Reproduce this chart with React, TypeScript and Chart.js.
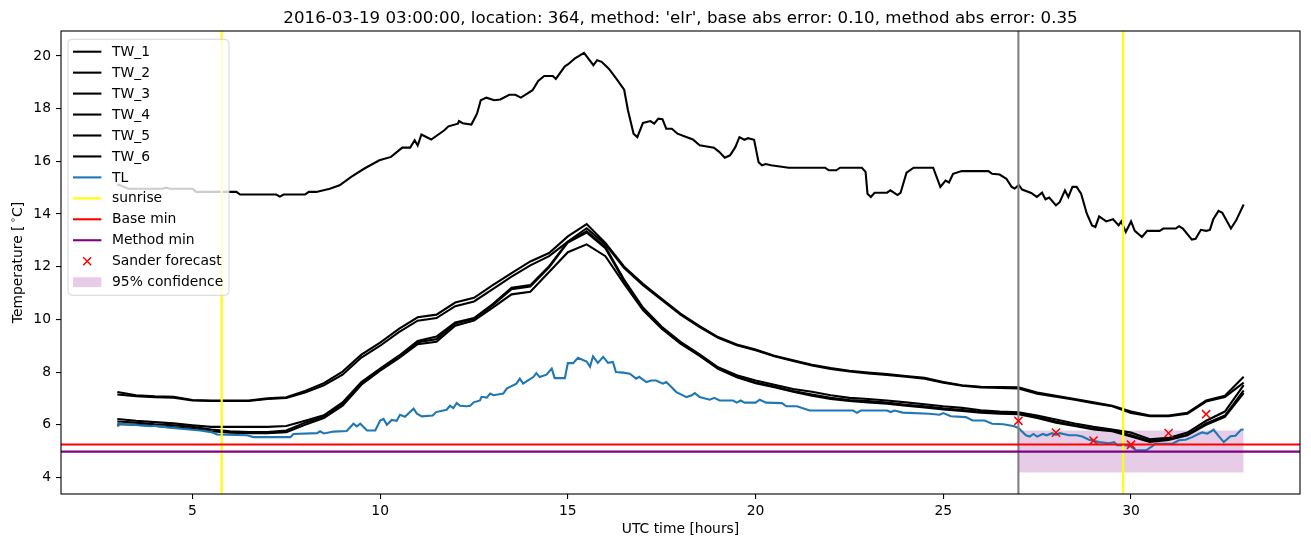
import React, { useEffect, useRef } from 'react';
import { Chart, registerables } from 'chart.js';

Chart.register(...registerables);

const TITLE = "2016-03-19 03:00:00, location: 364, method: 'elr', base abs error: 0.10, method abs error: 0.35";
const X_LABEL = 'UTC time [hours]';
const Y_LABEL_PARTS = ['Temperature [', '\u2218', 'C]'];

const xTicks = [5, 10, 15, 20, 25, 30];
const yTicks = [4, 6, 8, 10, 12, 14, 16, 18, 20];
const xMin = 1.5;
const xMax = 34.5;
const yMin = 3.37;
const yMax = 20.95;

const tw1Hours = [
  3.0, 3.3, 4.2, 4.3, 4.4, 5.0, 5.1, 6.17, 6.27, 7.23, 7.33, 7.43, 8.0, 8.1, 8.3, 8.66, 8.92, 9.22, 9.57, 9.98,
  10.29, 10.59, 10.8, 10.92, 11.0, 11.1, 11.36, 11.71, 11.82, 12.07, 12.1, 12.2, 12.43, 12.58, 12.68, 12.83, 13.04, 13.2, 13.44, 13.6,
  13.75, 14.06, 14.21, 14.37, 14.6, 14.68, 14.92, 15.0, 15.18, 15.43, 15.68, 15.78, 15.9, 16.09, 16.29, 16.5, 16.6, 16.75, 16.85, 17.0,
  17.2, 17.3, 17.41, 17.52, 17.62, 17.77, 17.92, 18.1, 18.33, 18.51, 18.89, 19.03, 19.18, 19.32, 19.46, 19.57, 19.7, 19.8, 19.96, 20.08,
  20.17, 20.27, 20.41, 20.88, 21.85, 21.95, 22.15, 22.25, 22.83, 22.93, 22.98, 23.07, 23.17, 23.5, 23.59, 23.78, 23.86, 24.02, 24.21, 24.73,
  24.92, 25.06, 25.15, 25.26, 25.49, 26.2, 26.3, 26.5, 26.68, 26.82, 26.9, 27.01, 27.1, 27.34, 27.49, 27.63, 27.72, 27.82, 28.0, 28.1,
  28.24, 28.33, 28.44, 28.55, 28.67, 28.82, 28.96, 29.05, 29.15, 29.34, 29.52, 29.67, 29.74, 29.86, 30.0, 30.1, 30.29, 30.43, 30.76, 30.86,
  31.19, 31.28, 31.38, 31.62, 31.72, 31.86, 32.0, 32.1, 32.19, 32.33, 32.43, 32.66, 32.8, 33.0,
];
const tw1Values = [
  15.13, 14.96, 14.96, 15.0, 14.96, 14.96, 14.84, 14.84, 14.74, 14.74, 14.66, 14.74, 14.74, 14.84, 14.84, 14.96, 15.09, 15.4, 15.72, 16.04,
  16.17, 16.52, 16.52, 16.8, 16.6, 17.02, 16.83, 17.18, 17.33, 17.43, 17.53, 17.45, 17.4, 17.81, 18.32, 18.42, 18.32, 18.35, 18.53, 18.53,
  18.42, 18.7, 19.05, 19.24, 19.24, 19.13, 19.61, 19.68, 19.9, 20.12, 19.65, 19.84, 19.78, 19.52, 19.14, 18.72, 17.94, 17.05, 16.92, 17.46,
  17.53, 17.43, 17.62, 17.6, 17.24, 17.24, 17.05, 16.95, 16.83, 16.61, 16.52, 16.36, 16.14, 16.23, 16.54, 16.92, 16.82, 16.88, 16.82, 15.97,
  15.85, 15.9, 15.85, 15.76, 15.76, 15.66, 15.66, 15.76, 15.76, 15.6, 14.77, 14.65, 14.81, 14.81, 14.9, 14.72, 14.8, 15.57, 15.76, 15.76,
  15.03, 15.27, 15.2, 15.53, 15.63, 15.63, 15.53, 15.5, 15.34, 15.03, 14.97, 15.1, 14.93, 14.8, 14.65, 14.81, 14.56, 14.63, 14.33, 14.45,
  14.9, 14.65, 15.03, 15.03, 14.77, 14.02, 13.57, 13.51, 13.91, 13.72, 13.8, 13.57, 13.72, 13.32, 13.72, 13.36, 13.13, 13.36, 13.36, 13.45,
  13.45, 13.54, 13.45, 13.03, 13.06, 13.4, 13.36, 13.4, 13.8, 14.12, 14.05, 13.45, 13.76, 14.36,
];

const twHours = [
  3.0, 3.5, 4.0, 4.5, 5.0, 5.5, 6.0, 6.5, 7.0, 7.5,
  8.0, 8.5, 9.0, 9.5, 10.0, 10.5, 11.0, 11.5, 12.0, 12.5,
  13.0, 13.5, 14.0, 14.5, 15.0, 15.5, 16.0, 16.5, 17.0, 17.5,
  18.0, 18.5, 19.0, 19.5, 20.0, 20.5, 21.0, 21.5, 22.0, 22.5,
  23.0, 23.5, 24.0, 24.5, 25.0, 25.5, 26.0, 26.5, 27.0, 27.5,
  28.0, 28.5, 29.0, 29.5, 30.0, 30.5, 31.0, 31.5, 32.0, 32.5,
  33.0,
];
const tw2Values = [
  7.24, 7.12, 7.08, 7.06, 6.94, 6.92, 6.92, 6.92, 7.0, 7.04,
  7.28, 7.58, 8.02, 8.66, 9.12, 9.64, 10.08, 10.18, 10.64, 10.82,
  11.3, 11.76, 12.2, 12.52, 13.15, 13.62, 12.9, 12.0, 11.35, 10.78,
  10.22, 9.75, 9.33, 9.05, 8.86, 8.62, 8.45, 8.28, 8.15, 8.05,
  7.98, 7.92, 7.85, 7.78, 7.62, 7.5, 7.44, 7.43, 7.42, 7.22,
  7.1, 6.98, 6.85, 6.72, 6.5, 6.35, 6.35, 6.45, 6.92, 7.1,
  7.82,
];
const tw3Values = [
  7.15, 7.08, 7.05, 7.03, 6.92, 6.9, 6.9, 6.9, 6.98, 7.02,
  7.22, 7.5, 7.9, 8.55, 9.0, 9.52, 9.95, 10.05, 10.5, 10.68,
  11.15, 11.62, 12.05, 12.4, 12.95, 13.46, 12.85, 11.95, 11.3, 10.74,
  10.18, 9.72, 9.3, 9.02, 8.83, 8.6, 8.42, 8.25, 8.12, 8.02,
  7.95, 7.89, 7.82, 7.75, 7.6, 7.48, 7.42, 7.4, 7.38, 7.18,
  7.06, 6.95, 6.82, 6.7, 6.45, 6.32, 6.32, 6.42, 6.88, 7.05,
  7.6,
];
const tw4Values = [
  6.22, 6.15, 6.1, 6.05, 5.98, 5.92, 5.92, 5.92, 5.92, 5.95,
  6.15, 6.36, 6.85, 7.62, 8.13, 8.62, 9.18, 9.35, 9.88, 10.05,
  10.58, 11.2, 11.3, 12.02, 12.95, 13.35, 12.75, 11.5, 10.45, 9.72,
  9.15, 8.68, 8.18, 7.88, 7.68, 7.52, 7.36, 7.25, 7.12, 7.02,
  6.98, 6.92, 6.85, 6.78, 6.7, 6.64, 6.55, 6.5, 6.47, 6.35,
  6.2, 6.05, 5.92, 5.82, 5.7, 5.45, 5.5, 5.7, 6.15, 6.5,
  7.5,
];
const tw5Values = [
  6.12, 6.08, 6.02, 5.98, 5.92, 5.82, 5.75, 5.72, 5.72, 5.78,
  6.08, 6.3, 6.78, 7.58, 8.1, 8.58, 9.13, 9.25, 9.84, 10.02,
  10.54, 11.15, 11.25, 11.98, 12.92, 13.3, 12.7, 11.45, 10.4, 9.68,
  9.1, 8.65, 8.15, 7.82, 7.6, 7.45, 7.28, 7.15, 7.02, 6.94,
  6.9, 6.84, 6.76, 6.7, 6.62, 6.56, 6.5, 6.45, 6.42, 6.3,
  6.12, 5.98, 5.85, 5.78, 5.6, 5.38, 5.45, 5.62, 6.05, 6.35,
  7.3,
];
const tw6Values = [
  6.02, 6.0, 5.95, 5.9, 5.85, 5.75, 5.7, 5.68, 5.68, 5.72,
  6.0, 6.25, 6.72, 7.52, 8.05, 8.53, 9.06, 9.15, 9.76, 9.96,
  10.45, 10.95, 11.05, 11.8, 12.55, 12.85, 12.4, 11.35, 10.35, 9.65,
  9.08, 8.62, 8.12, 7.8, 7.58, 7.42, 7.25, 7.1, 6.98, 6.9,
  6.85, 6.8, 6.72, 6.66, 6.58, 6.52, 6.46, 6.42, 6.4, 6.26,
  6.08, 5.95, 5.82, 5.75, 5.55, 5.35, 5.42, 5.6, 6.0, 6.3,
  7.2,
];

const tlHours = [
  3.0, 3.09, 3.4, 3.88, 4.0, 4.33, 4.77, 5.21, 5.5, 5.66, 6.45, 6.63, 7.61, 7.69, 8.32, 8.4, 8.5, 8.76, 9.11, 9.29,
  9.38, 9.47, 9.65, 9.87, 10.0, 10.09, 10.18, 10.31, 10.44, 10.53, 10.66, 10.89, 10.98, 11.11, 11.4, 11.49, 11.77, 11.86, 11.95, 12.04,
  12.13, 12.3, 12.4, 12.49, 12.66, 12.7, 12.84, 12.93, 13.02, 13.28, 13.37, 13.63, 13.72, 13.81, 13.94, 14.08, 14.16, 14.25, 14.43, 14.57,
  14.65, 14.92, 15.0, 15.14, 15.27, 15.4, 15.5, 15.59, 15.67, 15.8, 15.94, 16.07, 16.2, 16.28, 16.47, 16.65, 16.82, 16.9, 17.09, 17.22,
  17.35, 17.53, 17.62, 17.71, 17.89, 18.16, 18.3, 18.38, 18.51, 18.78, 18.9, 19.04, 19.4, 19.5, 19.6, 19.71, 20.0, 20.11, 20.28, 20.7,
  20.82, 21.1, 21.44, 22.6, 22.7, 22.8, 23.5, 23.6, 23.7, 23.92, 24.63, 24.9, 25.0, 25.2, 25.6, 25.78, 26.1, 26.3, 26.6, 26.89,
  27.0, 27.2, 27.3, 27.4, 27.5, 27.65, 27.75, 27.9, 28.0, 28.1, 28.35, 28.55, 28.7, 28.88, 29.15, 29.41, 29.55, 29.63, 29.85, 29.99,
  30.13, 30.4, 30.56, 30.65, 31.1, 31.28, 31.45, 31.63, 31.81, 31.9, 32.03, 32.2, 32.34, 32.47, 32.65, 32.78, 32.93, 33.0,
];
const tlValues = [
  5.94, 6.04, 6.0, 5.94, 5.96, 5.9, 5.84, 5.78, 5.72, 5.63, 5.6, 5.53, 5.53, 5.65, 5.68, 5.75, 5.67, 5.74, 5.76, 6.04,
  5.94, 6.04, 5.78, 5.78, 6.16, 6.22, 6.0, 6.18, 6.15, 6.38, 6.3, 6.61, 6.42, 6.32, 6.35, 6.48, 6.57, 6.72, 6.63, 6.82,
  6.72, 6.7, 6.72, 6.85, 6.92, 7.06, 7.03, 7.18, 7.12, 7.18, 7.37, 7.56, 7.75, 7.56, 7.68, 7.81, 7.96, 7.81, 7.9, 8.13,
  7.77, 7.77, 8.34, 8.34, 8.54, 8.46, 8.4, 8.2, 8.6, 8.35, 8.58, 8.35, 8.38, 8.0, 7.98, 7.94, 7.75, 7.82, 7.62, 7.68,
  7.68, 7.56, 7.62, 7.5, 7.24, 7.05, 7.12, 7.2, 7.05, 6.95, 7.02, 6.92, 6.92, 6.84, 6.92, 6.84, 6.84, 6.95, 6.84, 6.82,
  6.7, 6.7, 6.54, 6.54, 6.45, 6.54, 6.54, 6.48, 6.54, 6.46, 6.42, 6.38, 6.44, 6.32, 6.29, 6.16, 6.16, 6.04, 6.02, 5.94,
  5.88, 5.6, 5.55, 5.65, 5.55, 5.65, 5.6, 5.68, 5.62, 5.68, 5.6, 5.6, 5.55, 5.43, 5.34, 5.3, 5.34, 5.22, 5.22, 5.18,
  5.03, 5.03, 5.18, 5.28, 5.28, 5.41, 5.43, 5.53, 5.66, 5.71, 5.66, 5.81, 5.56, 5.34, 5.56, 5.58, 5.81, 5.82,
];

const sunriseHours = [5.78, 29.79];
const forecastStartHour = 27.0;
const baseMin = 5.25;
const methodMin = 4.98;
const sanderHours = [27, 28, 29, 30, 31, 32];
const sanderValues = [6.15, 5.7, 5.4, 5.24, 5.68, 6.4];
const confidenceHours = [27, 33];
const confidenceLow = 4.19;
const confidenceHigh = 5.78;

const legendLabels = ['TW_1', 'TW_2', 'TW_3', 'TW_4', 'TW_5', 'TW_6', 'TL', 'sunrise', 'Base min', 'Method min', 'Sander forecast', '95% confidence'];

const BLUE = '#1f77b4';
const YELLOW = '#ffff00';
const RED = '#ff0000';
const PURPLE = '#800080';
const GREY = '#808080';
const BAND = 'rgba(128,0,128,0.2)';
const FONT = '"DejaVu Sans", "Liberation Sans", sans-serif';
const LW = 2.1;

const legendStyle: Record<string, { kind: string; color: string }> = {
  TW_1: { kind: 'line', color: '#000' },
  TW_2: { kind: 'line', color: '#000' },
  TW_3: { kind: 'line', color: '#000' },
  TW_4: { kind: 'line', color: '#000' },
  TW_5: { kind: 'line', color: '#000' },
  TW_6: { kind: 'line', color: '#000' },
  TL: { kind: 'line', color: BLUE },
  sunrise: { kind: 'line', color: YELLOW },
  'Base min': { kind: 'line', color: RED },
  'Method min': { kind: 'line', color: PURPLE },
  'Sander forecast': { kind: 'x', color: RED },
  '95% confidence': { kind: 'patch', color: BAND },
};

const pts = (xs: number[], ys: number[]) => xs.map((x, i) => ({ x, y: ys[i] }));

const lineDs = (label: string, data: any[], color: string, order: number) => ({
  label,
  data,
  borderColor: color,
  backgroundColor: color,
  borderWidth: LW,
  pointRadius: 0,
  tension: 0,
  fill: false,
  order,
});

const decorPlugin = {
  id: 'decor',
  afterDatasetsDraw(chart: any) {
    const { ctx, chartArea: a } = chart;
    ctx.save();
    ctx.strokeStyle = '#000';
    ctx.lineWidth = 1.1;
    ctx.strokeRect(a.left, a.top, a.right - a.left, a.bottom - a.top);
    ctx.restore();
  },
  afterDraw(chart: any) {
    const { ctx, chartArea: a } = chart;
    ctx.save();
    ctx.fillStyle = '#000';
    ctx.font = `16.67px ${FONT}`;
    ctx.textAlign = 'center';
    ctx.textBaseline = 'alphabetic';
    ctx.fillText(TITLE, (a.left + a.right) / 2, a.top - 8);
    ctx.font = `13.89px ${FONT}`;
    ctx.textBaseline = 'middle';
    ctx.fillText(X_LABEL, (a.left + a.right) / 2, 529);
    ctx.save();
    ctx.translate(18, (a.top + a.bottom) / 2);
    ctx.rotate(-Math.PI / 2);
    ctx.textAlign = 'left';
    ctx.textBaseline = 'middle';
    const big = `13.89px ${FONT}`;
    const small = `9.7px ${FONT}`;
    ctx.font = big;
    const w1 = ctx.measureText(Y_LABEL_PARTS[0]).width;
    const w3 = ctx.measureText(Y_LABEL_PARTS[2]).width;
    ctx.font = small;
    const w2 = ctx.measureText(Y_LABEL_PARTS[1]).width;
    const gap = 2.5;
    const total = w1 + gap + w2 + w3;
    let cx = -total / 2;
    ctx.font = big;
    ctx.fillText(Y_LABEL_PARTS[0], cx, 0);
    cx += w1 + gap;
    ctx.font = small;
    ctx.fillText(Y_LABEL_PARTS[1], cx, -5);
    cx += w2;
    ctx.font = big;
    ctx.fillText(Y_LABEL_PARTS[2], cx, 0);
    ctx.restore();

    const bx = a.left + 7;
    const by = a.top + 8.3;
    const bw = 161;
    const bh = 256;
    const r = 4;
    ctx.beginPath();
    ctx.moveTo(bx + r, by);
    ctx.lineTo(bx + bw - r, by);
    ctx.quadraticCurveTo(bx + bw, by, bx + bw, by + r);
    ctx.lineTo(bx + bw, by + bh - r);
    ctx.quadraticCurveTo(bx + bw, by + bh, bx + bw - r, by + bh);
    ctx.lineTo(bx + r, by + bh);
    ctx.quadraticCurveTo(bx, by + bh, bx, by + bh - r);
    ctx.lineTo(bx, by + r);
    ctx.quadraticCurveTo(bx, by, bx + r, by);
    ctx.closePath();
    ctx.fillStyle = 'rgba(255,255,255,0.8)';
    ctx.fill();
    ctx.strokeStyle = 'rgba(204,204,204,0.8)';
    ctx.lineWidth = 1;
    ctx.stroke();

    const step = 20.95;
    ctx.font = `13.89px ${FONT}`;
    ctx.textAlign = 'left';
    ctx.textBaseline = 'middle';
    legendLabels.forEach((lab, i) => {
      const cy = by + 12.4 + i * step;
      const st = legendStyle[lab];
      const hx0 = bx + 5;
      const hx1 = bx + 33.4;
      if (st.kind === 'line') {
        ctx.strokeStyle = st.color;
        ctx.lineWidth = LW;
        ctx.beginPath();
        ctx.moveTo(hx0, cy);
        ctx.lineTo(hx1, cy);
        ctx.stroke();
      } else if (st.kind === 'x') {
        const mx = (hx0 + hx1) / 2;
        const h = 4;
        ctx.strokeStyle = st.color;
        ctx.lineWidth = 1.5;
        ctx.beginPath();
        ctx.moveTo(mx - h, cy - h);
        ctx.lineTo(mx + h, cy + h);
        ctx.moveTo(mx - h, cy + h);
        ctx.lineTo(mx + h, cy - h);
        ctx.stroke();
      } else {
        ctx.fillStyle = st.color;
        ctx.fillRect(hx0, cy - 4.9, hx1 - hx0, 9.8);
      }
      ctx.fillStyle = '#000';
      ctx.fillText(lab, bx + 44, cy + 0.5);
    });
    ctx.restore();
  },
};

export default function App() {
  const canvasRef = useRef<HTMLCanvasElement | null>(null);

  useEffect(() => {
    document.body.style.margin = '0';
    const canvas = canvasRef.current;
    if (!canvas) return;

    const datasets: any[] = [
      lineDs('TW_1', pts(tw1Hours, tw1Values), '#000', 5),
      lineDs('TW_2', pts(twHours, tw2Values), '#000', 5),
      lineDs('TW_3', pts(twHours, tw3Values), '#000', 5),
      lineDs('TW_4', pts(twHours, tw4Values), '#000', 5),
      lineDs('TW_5', pts(twHours, tw5Values), '#000', 5),
      lineDs('TW_6', pts(twHours, tw6Values), '#000', 5),
      lineDs('TL', pts(tlHours, tlValues), BLUE, 4),
      lineDs('sunrise', [{ x: sunriseHours[0], y: yMin }, { x: sunriseHours[0], y: yMax }], YELLOW, 3),
      lineDs('sunrise', [{ x: sunriseHours[1], y: yMin }, { x: sunriseHours[1], y: yMax }], YELLOW, 3),
      lineDs('forecast start', [{ x: forecastStartHour, y: yMin }, { x: forecastStartHour, y: yMax }], GREY, 3),
      lineDs('Base min', [{ x: xMin, y: baseMin }, { x: xMax, y: baseMin }], RED, 2),
      lineDs('Method min', [{ x: xMin, y: methodMin }, { x: xMax, y: methodMin }], PURPLE, 2),
      {
        label: 'Sander forecast',
        data: pts(sanderHours, sanderValues),
        showLine: false,
        pointStyle: 'crossRot',
        pointRadius: 5.8,
        pointBorderWidth: 1.5,
        pointBorderColor: RED,
        pointBackgroundColor: RED,
        borderColor: RED,
        order: 0,
      },
      {
        label: '95% confidence',
        data: confidenceHours.map((h) => ({ x: h, y: confidenceHigh })),
        borderWidth: 0,
        borderColor: 'rgba(0,0,0,0)',
        backgroundColor: BAND,
        pointRadius: 0,
        fill: { value: confidenceLow },
        order: 10,
      },
    ];

    const chart = new Chart(canvas, {
      type: 'line',
      data: { datasets },
      options: {
        responsive: false,
        animation: false,
        devicePixelRatio: 1,
        events: [],
        layout: { padding: { left: 0, right: 11, top: 31, bottom: 0 } },
        plugins: {
          legend: { display: false },
          title: { display: false },
          tooltip: { enabled: false },
        },
        scales: {
          x: {
            type: 'linear',
            min: xMin,
            max: xMax,
            afterBuildTicks: (scale: any) => {
              scale.ticks = xTicks.map((v) => ({ value: v }));
            },
            afterFit: (scale: any) => {
              scale.height = 53;
            },
            grid: { display: true, drawOnChartArea: false, drawTicks: true, tickLength: 5, color: '#000', lineWidth: 1.1 },
            border: { display: false },
            ticks: {
              color: '#000',
              font: { family: FONT, size: 13.89 },
              padding: 4,
              maxRotation: 0,
              autoSkip: false,
              callback: (v: any) => String(v),
            },
          },
          y: {
            type: 'linear',
            min: yMin,
            max: yMax,
            afterBuildTicks: (scale: any) => {
              scale.ticks = yTicks.map((v) => ({ value: v }));
            },
            afterFit: (scale: any) => {
              scale.width = 61;
            },
            grid: { display: true, drawOnChartArea: false, drawTicks: true, tickLength: 5, color: '#000', lineWidth: 1.1 },
            border: { display: false },
            ticks: {
              color: '#000',
              font: { family: FONT, size: 13.89 },
              padding: 5,
              autoSkip: false,
              callback: (v: any) => String(v),
            },
          },
        },
      },
      plugins: [decorPlugin],
    });

    return () => chart.destroy();
  }, []);

  return (
    <div style={{ width: 1311, height: 547 }}>
      <canvas ref={canvasRef} width={1311} height={547} style={{ display: 'block' }} />
    </div>
  );
}
